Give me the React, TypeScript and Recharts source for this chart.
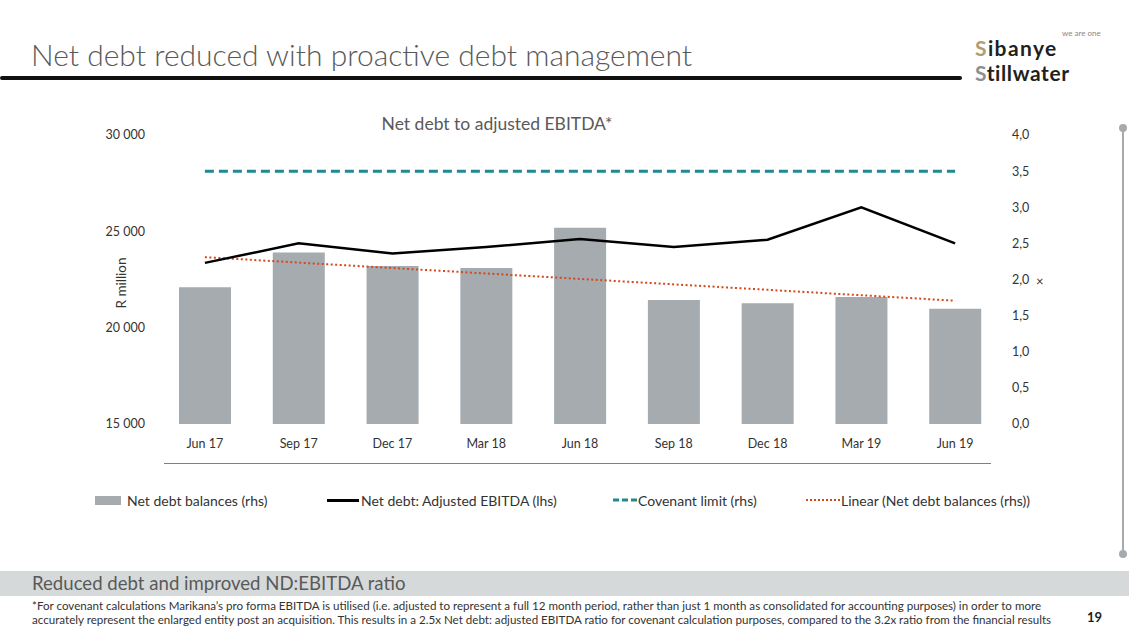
import React from 'react';
import { ComposedChart, Bar, Line, XAxis, YAxis } from 'recharts';

const categories = ['Jun 17', 'Sep 17', 'Dec 17', 'Mar 18', 'Jun 18', 'Sep 18', 'Dec 18', 'Mar 19', 'Jun 19'];
const netDebtBalances = [22100, 23900, 23200, 23100, 25180, 21430, 21270, 21590, 20980];
const netDebtToEbitda = [2.23, 2.5, 2.36, 2.45, 2.56, 2.45, 2.55, 3.0, 2.5];
const covenantLimit = [3.5, 3.5, 3.5, 3.5, 3.5, 3.5, 3.5, 3.5, 3.5];
// linear trend at its two ends
const linearTrend: (number | null)[] = [23660, null, null, null, null, null, null, null, 21400];

const leftTicks = [15000, 20000, 25000, 30000];
const rightTicks = [0, 0.5, 1, 1.5, 2, 2.5, 3, 3.5, 4];

const chartData = categories.map((name, i) => ({
  name,
  balance: netDebtBalances[i],
  ratio: netDebtToEbitda[i],
  covenant: covenantLimit[i],
  trend: linearTrend[i],
}));

const FONT = 'Lato, "DejaVu Sans", sans-serif';
const GREY_TEXT = '#595959';

const fmtThousands = (v: number) => String(v).replace(/\B(?=(\d{3})+(?!\d))/g, ' ');
const fmtRatio = (v: number) => v.toFixed(1).replace('.', ',');

const App: React.FC = () => {
  return (
    <div style={{ position: 'absolute', left: 0, top: 0, width: 1129, height: 635, background: '#fff', fontFamily: FONT, overflow: 'hidden' }}>
      {/* page title */}
      <div style={{ position: 'absolute', left: 31, top: 36, fontSize: 30, fontWeight: 300, color: GREY_TEXT, whiteSpace: 'nowrap' }}>
        Net debt reduced with proactive debt management
      </div>
      <div style={{ position: 'absolute', left: 0, top: 76, width: 962, height: 4, background: '#111', borderRadius: 2 }} />

      {/* logo */}
      <div style={{ position: 'absolute', left: 1062, top: 29, fontSize: 8, lineHeight: '8px', color: '#888' }}>we are one</div>
      <div style={{ position: 'absolute', left: 975, top: 37, fontSize: 21, fontWeight: 700, color: '#231f20', lineHeight: '22px', letterSpacing: 1.4 }}>
        <span style={{ color: '#b39c72' }}>S</span>ibanye
      </div>
      <div style={{ position: 'absolute', left: 975, top: 62, fontSize: 21, fontWeight: 700, color: '#231f20', lineHeight: '22px', letterSpacing: 0.6 }}>
        <span style={{ color: '#8c8e90' }}>S</span>tillwater
      </div>

      {/* right decoration */}
      <div style={{ position: 'absolute', left: 1122, top: 128, width: 2, height: 426, background: '#a6aaac' }} />
      <div style={{ position: 'absolute', left: 1119, top: 124, width: 8, height: 8, borderRadius: 4, background: '#a6aaac' }} />
      <div style={{ position: 'absolute', left: 1119, top: 550, width: 8, height: 8, borderRadius: 4, background: '#a6aaac' }} />

      {/* chart title */}
      <div style={{ position: 'absolute', left: 297, width: 400, top: 113, textAlign: 'center', fontSize: 17.5, color: GREY_TEXT }}>
        Net debt to adjusted EBITDA*
      </div>

      <div style={{ position: 'absolute', left: 0, top: 0 }}>
        <ComposedChart width={1129} height={470} data={chartData} margin={{ top: 135, right: 0, bottom: 0, left: 0 }} barCategoryGap="22%">
          <XAxis
            dataKey="name"
            axisLine={false}
            tickLine={false}
            tickSize={0}
            tickMargin={15}
            height={46}
            interval={0}
            tick={{ fontSize: 12.5, fill: '#333', fontFamily: FONT }}
          />
          <YAxis
            yAxisId="left"
            orientation="left"
            width={158}
            domain={[15000, 30000]}
            ticks={leftTicks}
            axisLine={false}
            tickLine={false}
            tickSize={0}
            tickMargin={13}
            tickFormatter={fmtThousands}
            tick={{ fontSize: 12.5, fill: '#333', fontFamily: FONT }}
            allowDataOverflow
          />
          <YAxis
            yAxisId="right"
            orientation="right"
            width={127}
            domain={[0, 4]}
            ticks={rightTicks}
            axisLine={false}
            tickLine={false}
            tickSize={0}
            tickMargin={10}
            tickFormatter={fmtRatio}
            tick={{ fontSize: 12.5, fill: '#333', fontFamily: FONT }}
          />
          <Bar yAxisId="left" dataKey="balance" fill="#a5abae" barSize={52} isAnimationActive={false} />
          <Line yAxisId="left" dataKey="trend" stroke="#d2491a" strokeWidth={2} strokeDasharray="2 2.5" dot={false} connectNulls type="linear" isAnimationActive={false} />
          <Line yAxisId="right" dataKey="covenant" stroke="#1f8a92" strokeWidth={3} strokeDasharray="9 5" dot={false} type="linear" isAnimationActive={false} />
          <Line yAxisId="right" dataKey="ratio" stroke="#000" strokeWidth={2.5} dot={false} type="linear" isAnimationActive={false} />
        </ComposedChart>
      </div>

      {/* axis titles and baseline */}
      <div style={{ position: 'absolute', left: 86, top: 275, width: 70, textAlign: 'center', transform: 'rotate(-90deg)', fontSize: 13.5, color: '#333' }}>
        R million
      </div>
      <div style={{ position: 'absolute', left: 1036, top: 273, fontSize: 13, color: '#333' }}>×</div>
      <div style={{ position: 'absolute', left: 164, top: 463, width: 827, height: 1, background: '#808080' }} />

      {/* legend */}
      <div style={{ position: 'absolute', top: 492, left: 0, width: 1129, height: 17, fontSize: 14, color: '#333' }}>
        <div style={{ position: 'absolute', left: 95, top: 4, width: 26, height: 9, background: '#a5abae' }} />
        <div style={{ position: 'absolute', left: 127, top: 0 }}>Net debt balances (rhs)</div>
        <div style={{ position: 'absolute', left: 327, top: 7, width: 32, height: 3, background: '#000' }} />
        <div style={{ position: 'absolute', left: 361, top: 0 }}>Net debt: Adjusted EBITDA (lhs)</div>
        <svg style={{ position: 'absolute', left: 613, top: 5 }} width={24} height={6}>
          <line x1={0} y1={3} x2={24} y2={3} stroke="#1f8a92" strokeWidth={3} strokeDasharray="6 3" />
        </svg>
        <div style={{ position: 'absolute', left: 638, top: 0 }}>Covenant limit (rhs)</div>
        <svg style={{ position: 'absolute', left: 806, top: 5 }} width={34} height={6}>
          <line x1={0} y1={3} x2={34} y2={3} stroke="#d2491a" strokeWidth={2} strokeDasharray="2 2" />
        </svg>
        <div style={{ position: 'absolute', left: 841, top: 0 }}>Linear (Net debt balances (rhs))</div>
      </div>

      {/* bottom band and footnote */}
      <div style={{ position: 'absolute', left: 0, top: 571, width: 1129, height: 25, background: '#d6d9da' }} />
      <div style={{ position: 'absolute', left: 32, top: 572, fontSize: 18.6, color: GREY_TEXT, whiteSpace: 'nowrap' }}>
        Reduced debt and improved ND:EBITDA ratio
      </div>
      <div style={{ position: 'absolute', left: 32, top: 599, fontSize: 11.6, lineHeight: '14px', color: '#333', whiteSpace: 'nowrap' }}>
        *For covenant calculations Marikana’s pro forma EBITDA is utilised (i.e. adjusted to represent a full 12 month period, rather than just 1 month as consolidated for accounting purposes) in order to more
        <br />
        accurately represent the enlarged entity post an acquisition. This results in a 2.5x Net debt: adjusted EBITDA ratio for covenant calculation purposes, compared to the 3.2x ratio from the financial results
      </div>
      <div style={{ position: 'absolute', left: 1087, top: 609, fontSize: 13, fontWeight: 700, color: '#222' }}>19</div>
    </div>
  );
};

export default App;
